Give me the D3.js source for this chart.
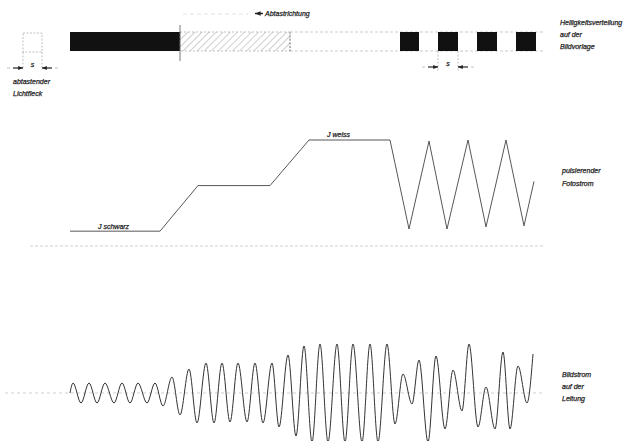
<!DOCTYPE html>
<html>
<head>
<meta charset="utf-8">
<script src="https://cdn.jsdelivr.net/npm/d3@7"></script>
<style>
  body { margin: 0; background: #fff; }
  text { font-family: "Liberation Sans", Arial, sans-serif; font-style: italic; font-size: 7px; fill: #222; stroke: #222; stroke-width: 0.25; }
</style>
</head>
<body>
<div id="chart"></div>
<script>
// Helligkeitsverteilung (Streifen), x in Abtastweg-Einheiten
const stripStart = [0, 110, 220, 330, 368, 407, 446];
const stripEnd = [110, 220, 330, 349, 388, 427, 466];
const stripTone = ["schwarz", "grau", "weiss", "schwarz", "schwarz", "schwarz", "schwarz"];

// pulsierender Fotostrom J
const photoX = [0, 90, 128, 200, 239, 320, 339, 359, 377, 398, 416, 436, 454, 464];
const photoJ = [14, 14, 57, 57, 100, 100, 16, 99, 16, 100, 18, 100, 19, 61];

// Bildstrom auf der Leitung: Scheitelwerte der Traegerschwingung
const waveX = [0, 3, 11, 19, 27, 35, 44, 52, 60, 68, 77, 85, 93, 102, 110, 119, 127, 136, 144, 152, 160, 168, 177, 185, 193, 202, 209, 218, 226, 234, 242, 250, 258, 267, 275, 283, 292, 300, 308, 317, 325, 333, 342, 349, 358, 366, 375, 383, 392, 399, 408, 416, 425, 433, 440, 448, 457, 463];
const waveA = [0, 10, -10, 10, -10, 10, -10, 10, -10, 10, -10, 10, -13, 16, -22, 24, -30, 30, -30, 30, -29, 30, -29, 30, -30, 30, -34, 38, -43, 47, -49, 49, -49, 49, -49, 49, -49, 49, -49, 49, -31, 19, -11, 33, -49, 37, -36, 23, -18, 49, -34, 6, -36, 41, -36, 27, -10, 39];

const width = 624, height = 441;
const svg = d3.select("#chart").append("svg")
  .attr("width", width).attr("height", height);

const defs = svg.append("defs");
const hatch = defs.append("pattern")
  .attr("id", "hatch").attr("patternUnits", "userSpaceOnUse")
  .attr("width", 5).attr("height", 5)
  .attr("patternTransform", "rotate(45)");
hatch.append("line").attr("x1", 0).attr("y1", 0).attr("x2", 0).attr("y2", 5)
  .attr("stroke", "#888").attr("stroke-width", 0.8);

const arrow = defs.append("marker")
  .attr("id", "arr").attr("viewBox", "0 0 10 10")
  .attr("refX", 10).attr("refY", 5)
  .attr("markerWidth", 4).attr("markerHeight", 4)
  .attr("orient", "auto");
arrow.append("path").attr("d", "M0,1 L10,5 L0,9 Z").attr("fill", "#222");

const x = d3.scaleLinear().domain([0, 475]).range([70, 545]);
const yJ = d3.scaleLinear().domain([0, 100]).range([246, 140]);
const yB = d3.scaleLinear().domain([-50, 50]).range([443, 343]);

const stripTop = 32, stripH = 19;
const guide = "#aaa";

// --- Streifen oben ---
svg.append("line")
  .attr("x1", x(220)).attr("x2", x(475)).attr("y1", stripTop).attr("y2", stripTop)
  .attr("stroke", guide).attr("stroke-width", 0.6).attr("stroke-dasharray", "3,2");
svg.append("line")
  .attr("x1", x(220)).attr("x2", x(475)).attr("y1", stripTop + stripH).attr("y2", stripTop + stripH)
  .attr("stroke", guide).attr("stroke-width", 0.6).attr("stroke-dasharray", "3,2");

svg.selectAll(".seg")
  .data(stripStart.map((s, i) => ({ s, e: stripEnd[i], t: stripTone[i] })))
  .enter()
  .append("rect")
  .attr("class", "seg")
  .attr("x", d => x(d.s))
  .attr("y", stripTop)
  .attr("width", d => x(d.e) - x(d.s))
  .attr("height", stripH)
  .attr("fill", d => d.t === "schwarz" ? "#111" : d.t === "grau" ? "url(#hatch)" : "none")
  .attr("stroke", d => d.t === "grau" ? "#999" : "none")
  .attr("stroke-width", 0.6)
  .attr("stroke-dasharray", "2,2");

svg.append("line")
  .attr("x1", x(110)).attr("x2", x(110)).attr("y1", 25).attr("y2", 61)
  .attr("stroke", "#555").attr("stroke-width", 0.8);
svg.append("line")
  .attr("x1", x(220)).attr("x2", x(220)).attr("y1", stripTop).attr("y2", stripTop + stripH)
  .attr("stroke", "#666").attr("stroke-width", 0.7).attr("stroke-dasharray", "2,1.5");

// Abtastrichtung
svg.append("line")
  .attr("x1", 183).attr("x2", 248).attr("y1", 14).attr("y2", 14)
  .attr("stroke", "#ccc").attr("stroke-width", 0.6).attr("stroke-dasharray", "4,3");
svg.append("line")
  .attr("x1", 263).attr("x2", 255).attr("y1", 13.5).attr("y2", 13.5)
  .attr("stroke", "#222").attr("stroke-width", 1.4).attr("marker-end", "url(#arr)");
svg.append("text").attr("x", 265).attr("y", 16).text("Abtastrichtung");

// abtastender Lichtfleck
const spot = [-47, -28];
svg.append("rect")
  .attr("x", x(spot[0])).attr("y", stripTop + 1)
  .attr("width", x(spot[1]) - x(spot[0])).attr("height", stripH)
  .attr("fill", "none").attr("stroke", "#999").attr("stroke-width", 0.6)
  .attr("stroke-dasharray", "2,1.5");

function dimension(a, b, y0, y1, ya) {
  [a, b].forEach(v => svg.append("line")
    .attr("x1", x(v)).attr("x2", x(v)).attr("y1", y0).attr("y2", y1)
    .attr("stroke", "#999").attr("stroke-width", 0.6).attr("stroke-dasharray", "2,1.5"));
  svg.append("line")
    .attr("x1", x(a) - 10).attr("x2", x(a)).attr("y1", ya).attr("y2", ya)
    .attr("stroke", "#222").attr("stroke-width", 1.2).attr("marker-end", "url(#arr)");
  svg.append("line")
    .attr("x1", x(b) + 10).attr("x2", x(b)).attr("y1", ya).attr("y2", ya)
    .attr("stroke", "#222").attr("stroke-width", 1.2).attr("marker-end", "url(#arr)");
  svg.append("line")
    .attr("x1", x(a) - 16).attr("x2", x(a) - 13).attr("y1", ya).attr("y2", ya)
    .attr("stroke", "#999").attr("stroke-width", 0.6);
  svg.append("line")
    .attr("x1", x(b) + 13).attr("x2", x(b) + 16).attr("y1", ya).attr("y2", ya)
    .attr("stroke", "#999").attr("stroke-width", 0.6);
  svg.append("text")
    .attr("x", (x(a) + x(b)) / 2).attr("y", ya - 1)
    .attr("text-anchor", "middle").text("s");
}
dimension(spot[0], spot[1], stripTop + stripH + 1, 70, 68);
dimension(stripStart[4], stripEnd[4], stripTop + stripH, 72, 67);

svg.append("text").attr("x", 13).attr("y", 84).text("abtastender");
svg.append("text").attr("x", 13).attr("y", 96).text("Lichtfleck");

svg.append("text").attr("x", 560).attr("y", 25).text("Helligkeitsverteilung");
svg.append("text").attr("x", 560).attr("y", 37).text("auf der");
svg.append("text").attr("x", 560).attr("y", 49).text("Bildvorlage");

// --- Fotostrom ---
svg.append("line")
  .attr("x1", 30).attr("x2", x(475)).attr("y1", yJ(0)).attr("y2", yJ(0))
  .attr("stroke", "#bbb").attr("stroke-width", 0.7).attr("stroke-dasharray", "3,2");

const photoLine = d3.line()
  .x((d, i) => x(photoX[i]))
  .y(d => yJ(d));
svg.append("path")
  .attr("d", photoLine(photoJ))
  .attr("fill", "none").attr("stroke", "#444").attr("stroke-width", 0.9);

svg.append("text").attr("x", 98).attr("y", 229).text("J schwarz");
svg.append("text").attr("x", 327).attr("y", 137).text("J weiss");
svg.append("text").attr("x", 562).attr("y", 173).text("pulsierender");
svg.append("text").attr("x", 562).attr("y", 186).text("Fotostrom");

// --- Bildstrom ---
svg.append("line")
  .attr("x1", 5).attr("x2", x(475)).attr("y1", yB(0)).attr("y2", yB(0))
  .attr("stroke", "#bbb").attr("stroke-width", 0.7).attr("stroke-dasharray", "3,3");

const waveLine = d3.line()
  .x((d, i) => x(waveX[i]))
  .y(d => yB(d))
  .curve(d3.curveMonotoneX);
svg.append("path")
  .attr("d", waveLine(waveA))
  .attr("fill", "none").attr("stroke", "#333").attr("stroke-width", 1);

svg.append("text").attr("x", 562).attr("y", 377).text("Bildstrom");
svg.append("text").attr("x", 562).attr("y", 389).text("auf der");
svg.append("text").attr("x", 562).attr("y", 401).text("Leitung");
</script>
</body>
</html>
